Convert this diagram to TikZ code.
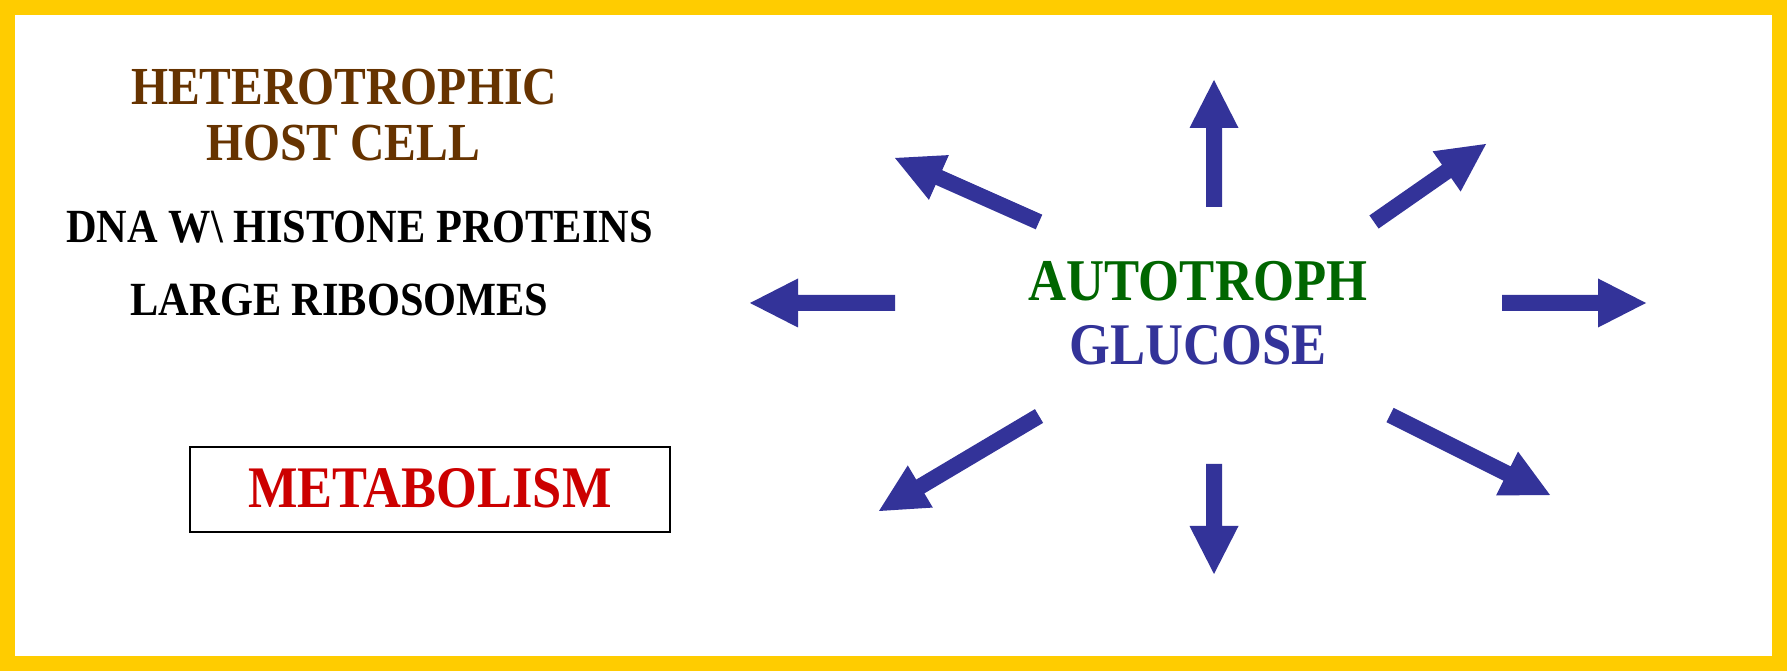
\documentclass[tikz,border=0pt]{standalone}
\usepackage{fontspec}
\usetikzlibrary{calc}
\newfontfamily\tnrb[FakeStretch=0.89]{Liberation Serif Bold}
\definecolor{ablue}{HTML}{333399}
\definecolor{abrown}{HTML}{663300}
\definecolor{agreen}{HTML}{006600}
\definecolor{ared}{HTML}{CC0000}
\definecolor{ayellow}{HTML}{FFCC00}
\tikzset{
  txt/.style={anchor=base, inner sep=0pt, font=\tnrb},
  metabox/.style={draw=black, line width=2pt, fill=white},
}
\newcommand\fatarrow[2]{%
  \fill[ablue] ($(#1)!8pt!90:(#2)$) -- ($(#2)!48pt!(#1)!8pt!90:(#2)$)
    -- ($(#2)!48pt!(#1)!24.5pt!90:(#2)$) -- (#2)
    -- ($(#2)!48pt!(#1)!24.5pt!-90:(#2)$) -- ($(#2)!48pt!(#1)!8pt!-90:(#2)$)
    -- ($(#1)!8pt!-90:(#2)$) -- cycle;}
\begin{document}
\begin{tikzpicture}[x=1pt,y=1pt]
\useasboundingbox (0,0) rectangle (1787,671);
\fill[ayellow] (0,0) rectangle (1787,671);
\fill[white] (15,15) rectangle (1772,656);
% left texts
\node[txt, text=abrown, font=\tnrb\fontsize{53.5}{60}\selectfont] (het) at (344,566) {HETEROTROPHIC};
\node[txt, text=abrown, font=\tnrb\fontsize{53.5}{60}\selectfont] (host) at (343,510) {HOST CELL};
\node[txt, text=black, font=\tnrb\fontsize{47.6}{54}\selectfont] (dna) at (359.6,428) {DNA W\textbackslash{} HISTONE PROTEINS};
\node[txt, text=black, font=\tnrb\fontsize{47.6}{54}\selectfont] (ribo) at (339.6,355) {LARGE RIBOSOMES};
\draw[metabox] (190,139) rectangle (670,224);
\node[txt, text=ared, font=\tnrb\fontsize{58.9}{66}\selectfont] (meta) at (430,163) {METABOLISM};
% center texts
\node[txt, text=agreen, font=\tnrb\fontsize{59.2}{66}\selectfont] (auto) at (1198,370) {AUTOTROPH};
\node[txt, text=ablue, font=\tnrb\fontsize{59}{66}\selectfont] (glu) at (1198,306) {GLUCOSE};
% arrow coordinates
\coordinate (upT) at (1214,464); \coordinate (upH) at (1214,591);
\coordinate (dnT) at (1214,207); \coordinate (dnH) at (1214,97);
\coordinate (lfT) at (895,368); \coordinate (lfH) at (750,368);
\coordinate (rtT) at (1502,368); \coordinate (rtH) at (1646,368);
\coordinate (ulT) at (1039,449); \coordinate (ulH) at (895,513);
\coordinate (urT) at (1374,449); \coordinate (urH) at (1486,527);
\coordinate (llT) at (1039,255); \coordinate (llH) at (879,160);
\coordinate (lrT) at (1390,256); \coordinate (lrH) at (1550,176);
\fatarrow{upT}{upH}
\fatarrow{dnT}{dnH}
\fatarrow{lfT}{lfH}
\fatarrow{rtT}{rtH}
\fatarrow{ulT}{ulH}
\fatarrow{urT}{urH}
\fatarrow{llT}{llH}
\fatarrow{lrT}{lrH}
\end{tikzpicture}
\end{document}
